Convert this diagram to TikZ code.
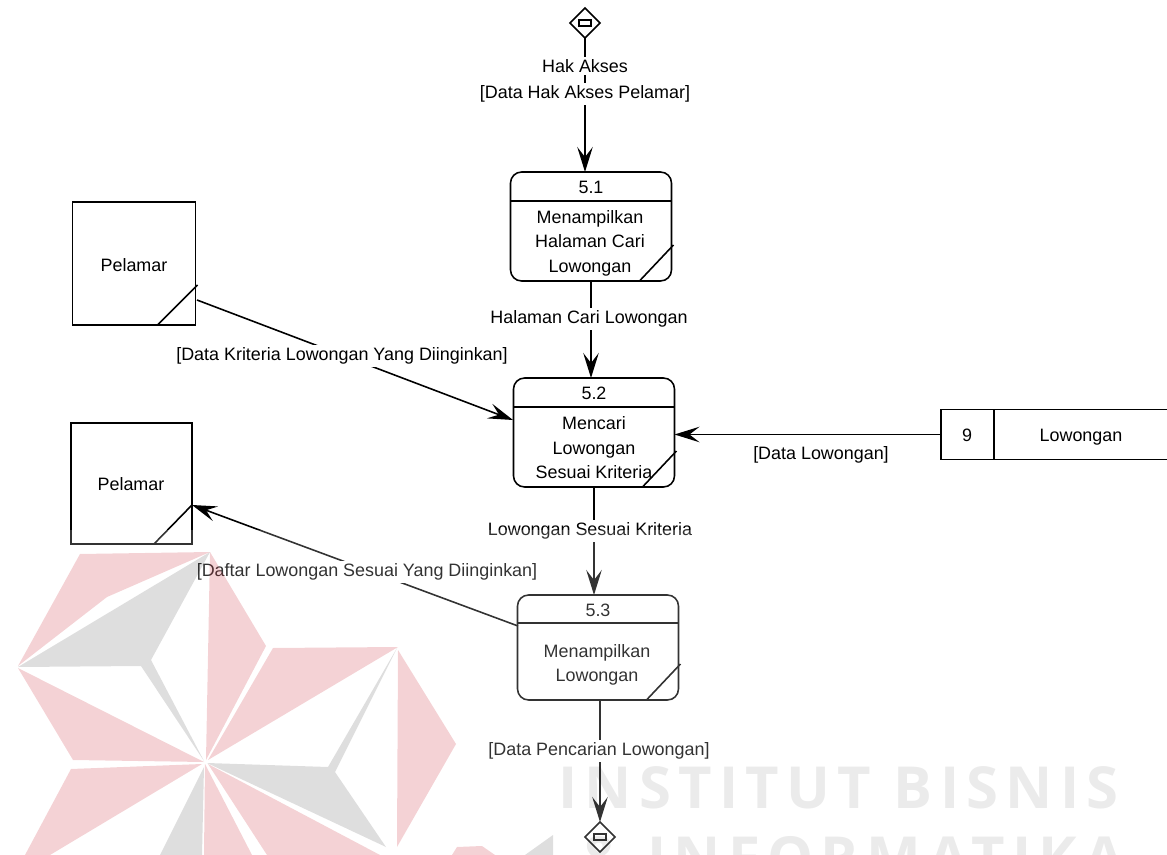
\documentclass[tikz,border=0pt]{standalone}
\usepackage{fontspec}
\setmainfont{Liberation Sans}
\newfontfamily\wmfont[LetterSpace=12.6]{Open Sans}
\usetikzlibrary{arrows.meta,shapes.geometric}
\definecolor{wmred}{HTML}{C8202E}
\tikzset{
  garis/.style={line width=0.9pt},
  proses/.style={garis,draw,rounded corners=0.22cm,minimum width=3.22cm,minimum height=2.18cm,inner sep=0pt,outer sep=0pt},
  entitas/.style={garis,draw,minimum width=2.46cm,minimum height=2.46cm,inner sep=0pt,outer sep=0pt},
  gudang/.style={garis,draw,minimum width=4.7cm,minimum height=1cm,inner sep=0pt,outer sep=0pt},
  kanal/.style={garis,draw,diamond,minimum width=0.6cm,minimum height=0.6cm,inner sep=0pt,outer sep=0pt},
  alir/.style={garis,-{Stealth[length=0.5cm,width=0.31cm,inset=0.2cm]}},
  teks/.style={font=\fontsize{10.2}{13.9}\selectfont,align=center,inner sep=0pt},
  teksalir/.style={teks,fill=white,inner ysep=1.5pt,inner xsep=1pt},
  wmmerah/.style={fill=wmred,opacity=0.2},
  wmabu/.style={fill=black,opacity=0.13},
  wmteks/.style={font=\fontsize{33}{33}\wmfont\bfseries,text=black,opacity=0.08,inner sep=0pt,anchor=base west}
}
\begin{document}
\begin{tikzpicture}[x=0.02cm,y=-0.02cm]
  \useasboundingbox (0,0) rectangle (1167,855);
  % proses
  \node[proses] (p1) at (591,226.5) {};
  \node[proses] (p2) at (594,432.5) {};
  \node[proses,minimum height=2.1cm] (p3) at (598,647.5) {};
  \draw[garis] (p1.north west) ++(0,29) -- ++(161,0);
  \draw[garis] (p2.north west) ++(0,29) -- ++(161,0);
  \draw[garis] (p3.north west) ++(0,28) -- ++(161,0);
  \draw[garis] (p1.south east) ++(-32,0) -- ++(34,-36);
  \draw[garis] (p2.south east) ++(-32,0) -- ++(34,-36);
  \draw[garis] (p3.south east) ++(-32,0) -- ++(34,-36);
  \node[teks] (p1num) at (591,187) {5.1};
  \node[teks] (p2num) at (594,393) {5.2};
  \node[teks] (p3num) at (598,610) {5.3};
  \node[teks] (p1isi) at (590,243) {Menampilkan\\Halaman Cari\\Lowongan};
  \node[teks] (p2isi) at (594,448) {Mencari\\Lowongan\\Sesuai Kriteria};
  \node[teks] (p3isi) at (597,665) {Menampilkan\\Lowongan};
  % entitas
  \node[entitas] (pelamar1) at (134,263.5) {};
  \node[entitas,minimum width=2.42cm,minimum height=2.42cm] (pelamar2) at (131.5,483.5) {};
  \draw[garis] (pelamar1.south east) ++(-38,0) -- ++(40,-40);
  \draw[garis] (pelamar2.south east) ++(-38,0) -- ++(38,-39);
  \node[teks] (pelamar1nama) at (134,265) {Pelamar};
  \node[teks] (pelamar2nama) at (131,484) {Pelamar};
  % data store
  \node[gudang] (toko) at (1058.5,434.5) {};
  \draw[garis] (994,409.5) -- (994,459.5);
  \node[teks] (tokonum) at (967,435) {9};
  \node[teks] (tokonama) at (1081,437) {Lowongan};
  % kanal
  \node[kanal] (atas) at (585,23) {};
  \node[kanal] (bawah) at (600,837) {};
  \draw[garis] (579,20) rectangle (591,26);
  \draw[garis] (594,834) rectangle (606,840);
  % alir
  \coordinate (keluar1) at (197,300);
  \coordinate (masuk2) at (513,420);
  \coordinate (keluar3) at (518,626);
  \coordinate (masuk4) at (192,505);
  \draw[alir] (atas.south) -- (atas.south |- p1.north);
  \draw[alir] (p1.south) -- (p1.south |- p2.north);
  \draw[alir] (keluar1) -- (masuk2);
  \draw[alir] (toko.west) -- (toko.west -| p2.east);
  \draw[alir] (p2.south) -- (p2.south |- p3.north);
  \draw[alir] (keluar3) -- (masuk4);
  \draw[alir] (bawah.north |- p3.south) -- (bawah.north);
  \node[teksalir] (a1) at (585,66) {Hak Akses};
  \node[teksalir] (a2) at (585,94) {[Data Hak Akses Pelamar]};
  \node[teksalir] (a3) at (589,319) {Halaman Cari Lowongan};
  \node[teksalir] (a4) at (342,356) {[Data Kriteria Lowongan Yang Diinginkan]};
  \node[teks] (a5) at (821,455) {[Data Lowongan]};
  \node[teksalir] (a6) at (590,531) {Lowongan Sesuai Kriteria};
  \node[teksalir] (a7) at (367,572) {[Daftar Lowongan Sesuai Yang Diinginkan]};
  \node[teksalir] (a8) at (599,751) {[Data Pencarian Lowongan]};
  % watermark
  \fill[white,opacity=0.2] (0,530) rectangle (1167,855);
  \fill[wmmerah] (80,554)--(210,552)--(107,597)--(18,666)--cycle;
  \fill[wmmerah] (210,552)--(266,646)--(206,760)--cycle;
  \fill[wmmerah] (18,668)--(204,762)--(73,760)--cycle;
  \fill[wmmerah] (71,769)--(202,764)--(50,855)--(25,855)--cycle;
  \fill[wmmerah] (273,648)--(398,647)--(208,760)--cycle;
  \fill[wmmerah] (398,650)--(456,744)--(397,847)--cycle;
  \fill[wmmerah] (205,764)--(252,855)--(204,855)--cycle;
  \fill[wmmerah] (208,764)--(380,855)--(267,855)--cycle;
  \fill[wmmerah] (457,847)--(482,846)--(495,855)--(452,855)--cycle;
  \fill[wmabu] (18,667)--(210,552)--(151,660)--(204,761)--(141,666)--cycle;
  \fill[wmabu] (397,648)--(335,772)--(386,847)--(207,763)--(328,767)--cycle;
  \fill[wmabu] (204,767)--(202,855)--(160,855)--cycle;
  \fill[wmabu] (525,855)--(553,835)--(553,855)--cycle;
  \node[wmteks] (wm1) at (558,808) {INSTITUT BISNIS};
  \node[wmteks] (wm2) at (581,878) {\& INFORMATIKA};
\end{tikzpicture}
\end{document}
